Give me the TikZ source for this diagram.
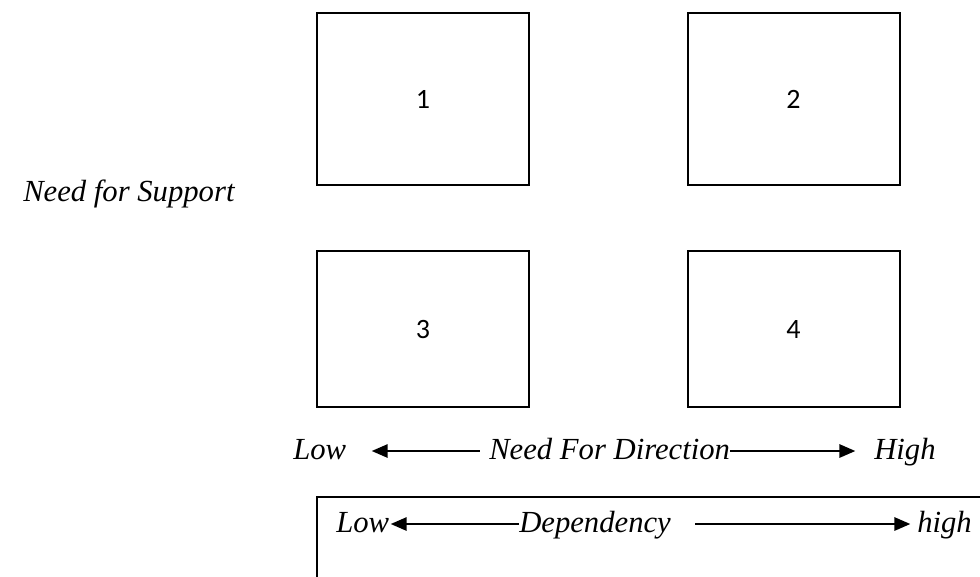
\documentclass[tikz,border=0pt]{standalone}
\usepackage{fontspec}
\setmainfont{Liberation Serif}
\newfontfamily\numfont{Carlito}
\usetikzlibrary{arrows.meta}
\begin{document}
\begin{tikzpicture}[x=0.75pt,y=-0.75pt,
  quad/.style={draw,line width=1.5pt,minimum width=159pt,inner sep=0pt,font=\numfont\fontsize{21}{25}\selectfont},
  lbl/.style={font=\itshape\fontsize{23}{28}\selectfont,inner sep=0pt,text height=12pt,text depth=0pt,anchor=base west},
  arr/.style={-{Triangle[length=12pt,width=10pt]},line width=1.5pt}]
\useasboundingbox (0,0) rectangle (980,576);
\clip (0,0) rectangle (980,576);

\node[quad,minimum height=129pt] (q1) at (423,99) {1};
\node[quad,minimum height=129pt] (q2) at (793.5,99) {2};
\node[quad,minimum height=117pt] (q3) at (423,329) {3};
\node[quad,minimum height=117pt] (q4) at (793.5,329) {4};

\node[lbl] (sup) at (23,201) {Need for Support};

\node[lbl] (lo1) at (293,459) {Low};
\node[lbl] (dir) at (489,459) {Need For Direction};
\node[lbl] (hi1) at (874,459) {High};
\draw[arr,shorten <=7pt,shorten >=19pt] (dir.west) -- (lo1.east);
\draw[arr,shorten >=14pt] (dir.east) -- (hi1.west);

\draw[line width=1.2pt] (317,497) rectangle (1000,620);
\node[lbl] (lo2) at (336,532) {Low};
\node[lbl] (dep) at (519,532) {Dependency};
\node[lbl] (hi2) at (917,532) {high};
\draw[arr,shorten >=1pt] (dep.west) -- (lo2.east);
\draw[arr,shorten <=18pt,shorten >=5pt] (dep.east) -- (hi2.west);
\end{tikzpicture}
\end{document}
